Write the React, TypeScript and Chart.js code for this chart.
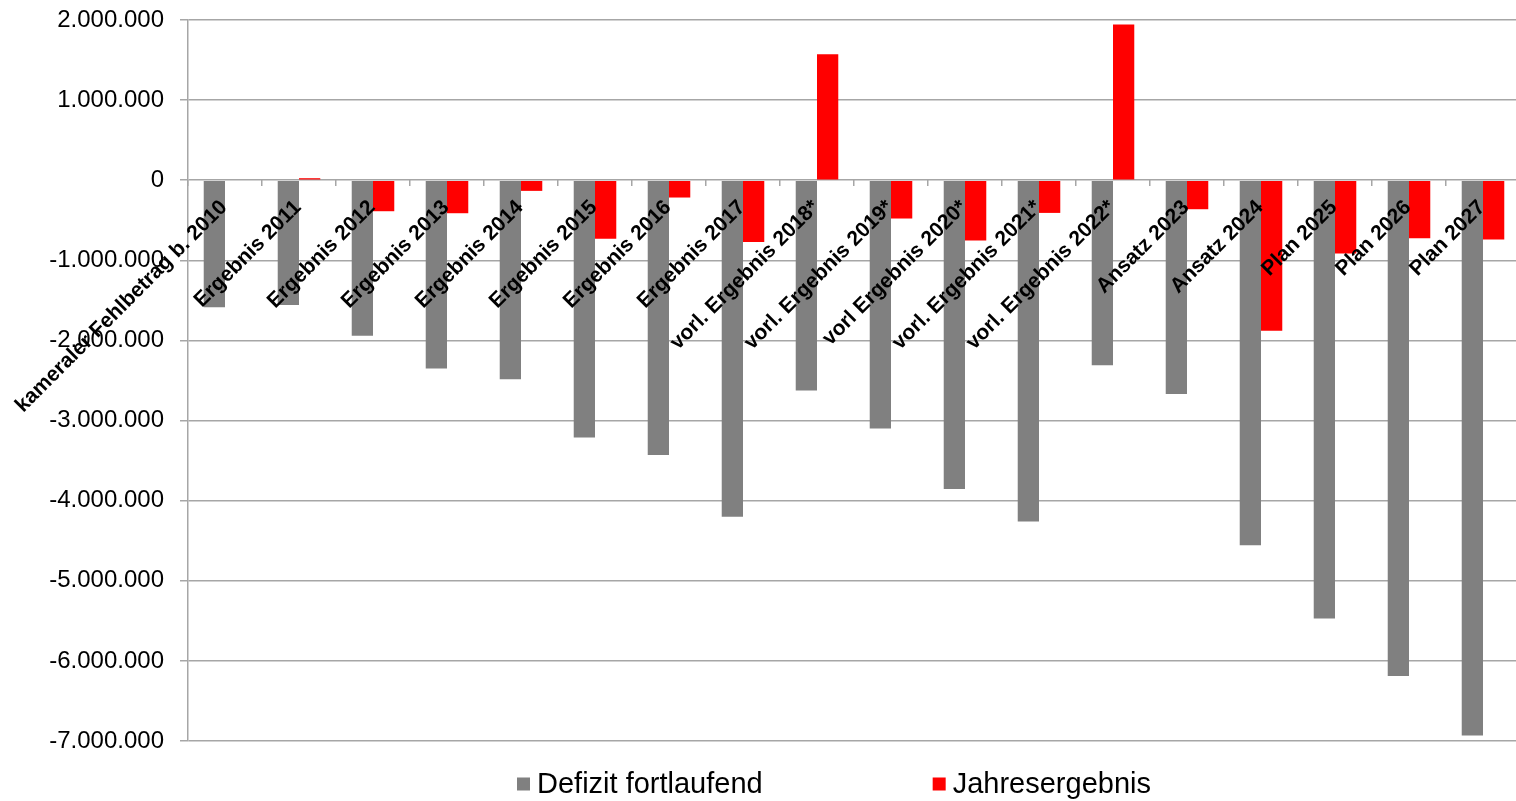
import React, { useEffect, useRef } from 'react';
import { Chart, registerables } from 'chart.js';

Chart.register(...registerables);

const categories: string[] = [
  'kameraler Fehlbetrag b. 2010',
  'Ergebnis 2011',
  'Ergebnis 2012',
  'Ergebnis 2013',
  'Ergebnis 2014',
  'Ergebnis 2015',
  'Ergebnis 2016',
  'Ergebnis 2017',
  'vorl. Ergebnis 2018*',
  'vorl. Ergebnis 2019*',
  'vorl Ergebnis 2020*',
  'vorl. Ergebnis 2021*',
  'vorl. Ergebnis 2022*',
  'Ansatz 2023',
  'Ansatz 2024',
  'Plan 2025',
  'Plan 2026',
  'Plan 2027',
];

const defizitFortlaufend: number[] = [
  -1585000, -1557000, -1940000, -2350000, -2485000, -3210000, -3430000, -4200000,
  -2625000, -3100000, -3853000, -4260000, -2310000, -2670000, -4556000, -5470000,
  -6190000, -6930000,
];

const jahresergebnis: (number | null)[] = [
  null, 25000, -387000, -412000, -133000, -732000, -216000, -770000,
  1573000, -478000, -753000, -408000, 1943000, -362000, -1880000, -915000,
  -724000, -740000,
];

const seriesNames: string[] = ['Defizit fortlaufend', 'Jahresergebnis'];
const seriesColors: string[] = ['#808080', '#FF0000'];

const yMin = -7000000;
const yMax = 2000000;
const yStep = 1000000;

const gridColor = '#a6a6a6';
const FONT = '"Liberation Sans", Arial, sans-serif';

function formatDE(v: number): string {
  const s = Math.abs(Math.round(v)).toString().replace(/\B(?=(\d{3})+(?!\d))/g, '.');
  return (v < 0 ? '-' : '') + s;
}

const categoryLabelPlugin = {
  id: 'categoryLabels',
  afterDatasetsDraw(chart: any) {
    const xs = chart.scales.x;
    const ys = chart.scales.y;
    const ctx = chart.ctx;
    const y0 = ys.getPixelForValue(0);
    ctx.save();
    ctx.font = `bold 21px ${FONT}`;
    ctx.fillStyle = '#000000';
    ctx.textAlign = 'right';
    ctx.textBaseline = 'alphabetic';
    categories.forEach((label, i) => {
      const px = xs.getPixelForValue(i);
      ctx.save();
      ctx.translate(px + 3, y0 + 28);
      ctx.rotate(-Math.PI / 4);
      ctx.fillText(label, 0, 0);
      ctx.restore();
    });
    ctx.restore();
  },
};

const customLegendPlugin = {
  id: 'customLegend',
  afterDraw(chart: any) {
    const ctx = chart.ctx;
    const datasets = chart.data.datasets;
    const box = 13;
    const gap = 7;
    const spacing = 170;
    let x = 517;
    const yMid = 784;
    ctx.save();
    ctx.font = `29px ${FONT}`;
    ctx.textAlign = 'left';
    ctx.textBaseline = 'middle';
    datasets.forEach((ds: any) => {
      ctx.fillStyle = ds.backgroundColor;
      ctx.fillRect(x, yMid - box / 2, box, box);
      ctx.fillStyle = '#000000';
      ctx.fillText(ds.label, x + box + gap, yMid + 1);
      const w = ctx.measureText(ds.label).width;
      x += box + gap + w + spacing;
    });
    ctx.restore();
  },
};

export default function App() {
  const canvasRef = useRef<HTMLCanvasElement | null>(null);

  useEffect(() => {
    if (!canvasRef.current) return;
    const chart = new Chart(canvasRef.current, {
      type: 'bar',
      data: {
        labels: categories,
        datasets: [
          {
            label: seriesNames[0],
            data: defizitFortlaufend,
            backgroundColor: seriesColors[0],
            borderWidth: 0,
            categoryPercentage: 0.575,
            barPercentage: 1.0,
          },
          {
            label: seriesNames[1],
            data: jahresergebnis,
            backgroundColor: seriesColors[1],
            borderWidth: 0,
            categoryPercentage: 0.575,
            barPercentage: 1.0,
          },
        ],
      },
      options: {
        animation: false,
        responsive: true,
        maintainAspectRatio: false,
        devicePixelRatio: 1,
        layout: { padding: { top: 20, bottom: 60, left: 0, right: 0 } },
        plugins: {
          legend: { display: false },
          tooltip: { enabled: false },
          title: { display: false },
        },
        scales: {
          x: {
            type: 'category',
            position: { y: 0 } as any,
            grid: {
              offset: true,
              drawOnChartArea: false,
              drawTicks: true,
              tickLength: 6,
              color: gridColor,
              lineWidth: 1.5,
            },
            border: { display: false },
            ticks: { display: false },
            afterFit: (scale: any) => {
              scale.height = 0;
            },
          },
          y: {
            min: yMin,
            max: yMax,
            ticks: {
              stepSize: yStep,
              color: '#000000',
              font: { family: FONT, size: 24, lineHeight: 0.3 },
              padding: 16,
              callback: (v: any) => formatDE(Number(v)),
            },
            grid: {
              color: gridColor,
              lineWidth: 1.5,
              tickLength: 8,
              drawTicks: true,
            },
            border: { display: true, color: gridColor, width: 1.5 },
            afterFit: (scale: any) => {
              scale.width = 188;
            },
          },
        },
      },
      plugins: [categoryLabelPlugin, customLegendPlugin],
    });
    return () => chart.destroy();
  }, []);

  return (
    <div
      style={{
        position: 'fixed',
        left: 0,
        top: 0,
        width: '1516px',
        height: '801px',
        overflow: 'hidden',
        background: '#ffffff',
      }}
    >
      <div style={{ position: 'relative', width: '1520px', height: '801px' }}>
        <canvas ref={canvasRef} />
      </div>
    </div>
  );
}
